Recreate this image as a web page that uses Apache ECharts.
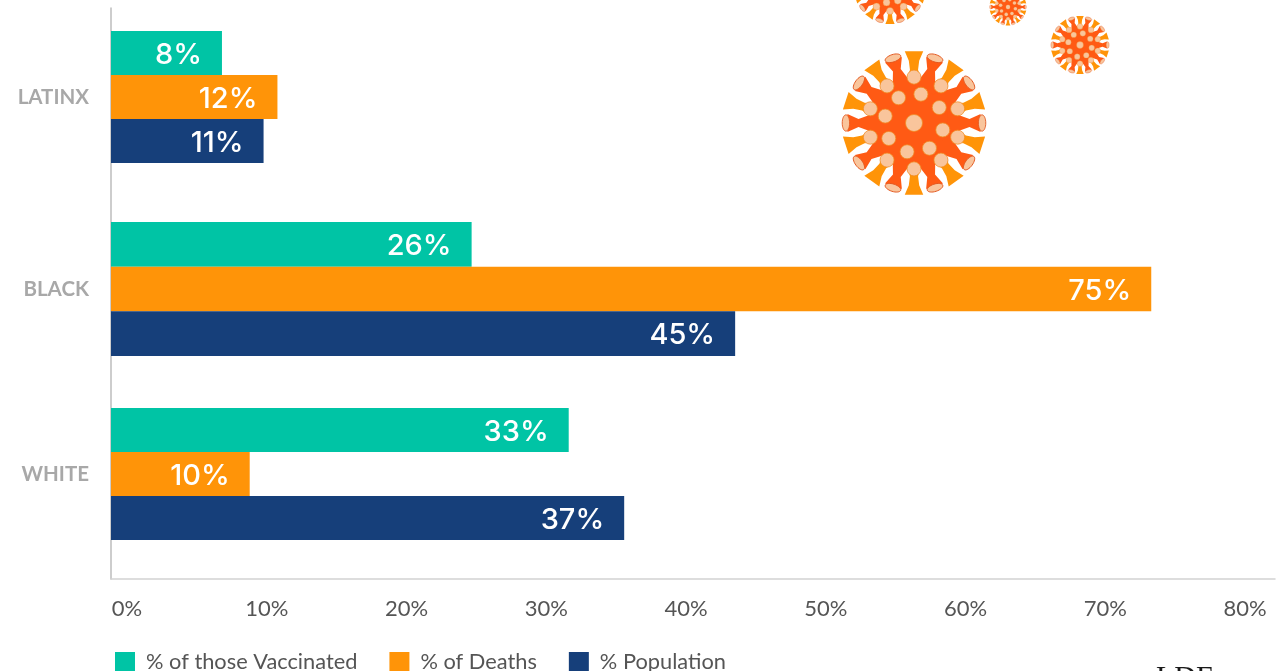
<!DOCTYPE html>
<html>
<head>
<meta charset="utf-8">
<title>Vaccination, deaths and population by race</title>
<style>
html, body { margin: 0; padding: 0; background: #fff; }
#chart { width: 1287px; height: 671px; }
</style>
<script src="https://cdn.jsdelivr.net/npm/echarts@6/dist/echarts.min.js"></script>
</head>
<body>
<div id="chart"></div>
<script>
var categories = ['LATINX', 'BLACK', 'WHITE'];
var seriesNames = ['% of those Vaccinated', '% of Deaths', '% Population'];
var vaccinated = [8, 26, 33];
var deaths = [12, 75, 10];
var population = [11, 45, 37];
var tickValues = [0, 80];

var colors = ['#00c4a5', '#ff9408', '#163f7a'];
var seriesValues = [vaccinated, deaths, population];
var fontName = 'Lato';

// each group sits in its own grid, the gaps between groups are not equal in the picture
var groupBoxes = [
    { top: 31, height: 132 },
    { top: 222, height: 134 },
    { top: 408, height: 132 }
];

var grids = [
    { left: 111, top: 8, width: 1164, height: 571 }, // axis lines
    { left: 127, top: 8, width: 1118, height: 571 }  // tick labels
];
var xAxes = [
    {
        gridIndex: 0, type: 'value', min: 0, max: 84,
        axisLine: { show: true, onZero: false, lineStyle: { color: '#d2d2d2', width: 1.5 } },
        axisTick: { show: false }, axisLabel: { show: false }, splitLine: { show: false }
    },
    {
        gridIndex: 1, type: 'value', min: tickValues[0], max: tickValues[1], interval: 10,
        axisLine: { show: false }, axisTick: { show: false }, splitLine: { show: false },
        axisLabel: { color: '#555', fontSize: 22, fontFamily: fontName, margin: 19, formatter: '{value}%' }
    }
];
var yAxes = [
    {
        gridIndex: 0, type: 'value', min: 0, max: 1,
        axisLine: { show: true, onZero: false, lineStyle: { color: '#bdbdbd', width: 1.5 } },
        axisTick: { show: false }, axisLabel: { show: false }, splitLine: { show: false }
    },
    { gridIndex: 1, type: 'value', min: 0, max: 1, show: false }
];
var series = [];

categories.forEach(function (name, i) {
    var g = i + 2;
    grids.push({ left: 111, top: groupBoxes[i].top, width: 1109.6, height: groupBoxes[i].height });
    xAxes.push({ gridIndex: g, type: 'value', min: tickValues[0], max: tickValues[1], show: false });
    yAxes.push({
        gridIndex: g, type: 'category', data: [name], inverse: true,
        axisLine: { show: false }, axisTick: { show: false },
        axisLabel: {
            color: '#a8a8a8', fontSize: 20.5, fontWeight: 'bold', fontFamily: fontName,
            margin: 22, padding: [2, 0, 0, 0]
        }
    });
    seriesNames.forEach(function (sName, s) {
        series.push({
            name: sName,
            type: 'bar',
            xAxisIndex: g,
            yAxisIndex: g,
            data: [seriesValues[s][i]],
            barWidth: groupBoxes[i].height / 3,
            barGap: 0,
            itemStyle: { color: colors[s] },
            label: {
                show: true,
                position: 'insideRight',
                distance: 20,
                offset: [0, 2],
                color: '#fff',
                fontSize: 29,
                fontFamily: 'Inter',
                fontWeight: 500,
                formatter: '{c}%'
            }
        });
    });
});

// virus drawing in local units, radius 100
function virus(x, y, r) {
    var light = '#ff9408', dark = '#ff5a14', pale = '#f9c59c';
    var children = [];

    function dir(a, d, side) {
        return [Math.sin(a) * d + Math.cos(a) * side, -Math.cos(a) * d + Math.sin(a) * side];
    }
    function spike(a, widths, color) {
        var pts = [];
        widths.forEach(function (w) { pts.push(dir(a, w[0], -w[1])); });
        widths.slice().reverse().forEach(function (w) { pts.push(dir(a, w[0], w[1])); });
        children.push({ type: 'polygon', shape: { points: pts }, style: { fill: color } });
    }
    function dot(a, d, size) {
        var p = dir(a, d, 0);
        children.push({
            type: 'circle', x: p[0], y: p[1], shape: { r: size },
            style: { fill: pale, stroke: '#f08a20', lineWidth: 1 }
        });
    }

    var i, a;
    for (i = 0; i < 10; i++) {
        a = i * Math.PI / 5;
        spike(a, [[58, 9], [72, 5.5], [84, 7], [97, 12.5]], light);
    }
    children.push({ type: 'circle', shape: { r: 60 }, style: { fill: dark } });
    for (i = 0; i < 10; i++) {
        a = (i + 0.5) * Math.PI / 5;
        spike(a, [[45, 16], [62, 10], [75, 5.5], [90, 12]], dark);
        var p = dir(a, 92, 0);
        children.push({
            type: 'ellipse', x: p[0], y: p[1], rotation: -a, shape: { cx: 0, cy: 0, rx: 11, ry: 5 },
            style: { fill: pale, stroke: '#e2571e', lineWidth: 1.2 }
        });
    }
    for (i = 0; i < 10; i++) {
        dot(i * Math.PI / 5, 62, 9.5);
    }
    for (i = 0; i < 8; i++) {
        dot((i + 0.3) * Math.PI / 4, 40, 9.5);
    }
    dot(0, 0, 11.5);

    return {
        type: 'group', x: x, y: y, scaleX: r / 100, scaleY: r / 100,
        silent: true, children: children
    };
}

var option = {
    animation: false,
    backgroundColor: '#fff',
    grid: grids,
    xAxis: xAxes,
    yAxis: yAxes,
    series: series,
    legend: {
        data: seriesNames,
        left: 110,
        top: 646,
        icon: 'rect',
        itemWidth: 20,
        itemHeight: 20,
        itemGap: 32,
        selectedMode: false,
        textStyle: { color: '#555', fontSize: 21.8, fontFamily: fontName, padding: [0, 0, 0, 6] }
    },
    graphic: [
        virus(914, 123, 74),
        virus(1080, 45, 30),
        virus(1008, 7, 19),
        virus(890, -12, 37),
        {
            type: 'text', x: 1156, y: 663, silent: true,
            style: { text: 'LDF', fill: '#1a1a1a', font: '30px "Liberation Serif"' }
        }
    ]
};

var myChart = echarts.init(document.getElementById('chart'));
myChart.setOption(option);
</script>
</body>
</html>
